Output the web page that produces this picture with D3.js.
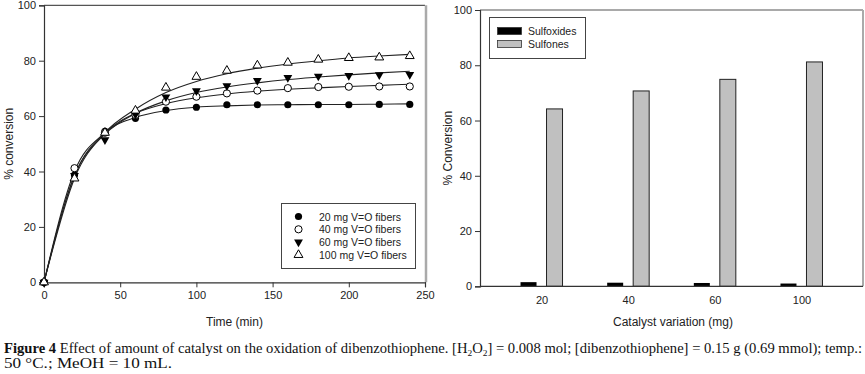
<!DOCTYPE html>
<html>
<head>
<meta charset="utf-8">
<script src="https://cdn.jsdelivr.net/npm/d3@7"></script>
<style>
  body { margin: 0; background: #fff; }
  svg { display: block; font-family: "Liberation Sans", Arial, sans-serif; }
  .caption { font-family: "Liberation Serif", "Times New Roman", serif; font-size: 14px; fill: #111; }
</style>
</head>
<body>
<svg id="chart" width="865" height="374"></svg>
<script>
// ---- left panel: conversion vs time ----
const times = [0, 20, 40, 60, 80, 100, 120, 140, 160, 180, 200, 220, 240];
const seriesNames = ['20 mg V=O fibers', '40 mg V=O fibers', '60 mg V=O fibers', '100 mg V=O fibers'];
const conv20 = [0, 38.7, 54.5, 59.2, 62.2, 63.2, 64.1, 64.1, 64.1, 64.1, 64.1, 64.2, 64.2];
const conv40 = [0, 41.2, 54, 60.4, 65.2, 67, 68.2, 69.2, 70.1, 70.5, 70.6, 70.7, 70.7];
const conv60 = [0, 38.5, 51.4, 60.6, 66.9, 69.1, 70.9, 72.8, 73.9, 74.4, 74.6, 74.9, 75];
const conv100 = [0, 37.5, 54, 62, 70.3, 74.2, 76.4, 78.3, 79.3, 80.4, 81, 81.2, 81.7];
// fitted curves
const fit20 = [0, 38.5, 54, 59.5, 62, 63.2, 63.7, 64, 64.1, 64.2, 64.2, 64.3, 64.4];
const fit40 = [0, 40, 54, 61, 64.5, 66.6, 68, 69, 69.7, 70.2, 70.7, 71.1, 71.5];
const fit60 = [0, 38.5, 53.5, 61, 65.5, 68.5, 70.5, 72, 73.2, 74.1, 74.9, 75.6, 76.2];
const fit100 = [0, 37.5, 54, 62.5, 68.5, 72.5, 75.3, 77.3, 78.8, 80, 81, 81.7, 82.3];
const timeTicks = [0, 50, 100, 150, 200, 250];
const convTicks = [0, 20, 40, 60, 80, 100];

// ---- right panel: product distribution vs catalyst ----
const catalyst = ['20', '40', '60', '100'];
const sulfoxides = [1.5, 1.3, 1.2, 1.0];
const sulfones = [64.2, 70.7, 74.9, 81.2];
const products = ['Sulfoxides', 'Sulfones'];

const captionLine1 = ' Effect of amount of catalyst on the oxidation of dibenzothiophene. [H';
const captionLine2 = '50 °C.; MeOH = 10 mL.';

const svg = d3.select('#chart');
const axisColor = '#333';

// ===== left chart =====
const L = { x0: 44, x1: 425, y0: 282.3, y1: 5.3 };
const xL = d3.scaleLinear().domain([0, 250]).range([L.x0, L.x1]);
const yL = d3.scaleLinear().domain([0, 100]).range([L.y0, L.y1]);

const gl = svg.append('g');
// frame: top dark, right light grey
gl.append('line').attr('x1', L.x0).attr('x2', L.x1).attr('y1', L.y1).attr('y2', L.y1)
  .attr('stroke', '#555').attr('stroke-width', 1.2);
gl.append('line').attr('x1', L.x1 + 1).attr('x2', L.x1 + 1).attr('y1', L.y1).attr('y2', L.y0)
  .attr('stroke', '#aaa').attr('stroke-width', 2.5);

const axL = gl.append('g').attr('transform', `translate(${L.x0},0)`)
  .call(d3.axisLeft(yL).tickValues(convTicks).tickSize(5).tickPadding(3));
const axB = gl.append('g').attr('transform', `translate(0,${L.y0})`)
  .call(d3.axisBottom(xL).tickValues(timeTicks).tickSize(5).tickPadding(4));
[axL, axB].forEach(a => {
  a.select('.domain').attr('stroke', axisColor).attr('stroke-width', 1.2);
  a.selectAll('.tick line').attr('stroke', axisColor);
  a.selectAll('.tick text').attr('font-size', 11).attr('fill', '#222')
    .attr('font-family', '"Liberation Sans", Arial, sans-serif');
});

gl.append('text').attr('transform', `translate(13,${(L.y0 + L.y1) / 2}) rotate(-90)`)
  .attr('text-anchor', 'middle').attr('font-size', 12).attr('fill', '#222')
  .text('% conversion');
gl.append('text').attr('x', (L.x0 + L.x1) / 2).attr('y', 326)
  .attr('text-anchor', 'middle').attr('font-size', 12).attr('fill', '#222')
  .text('Time (min)');

const fits = [fit20, fit40, fit60, fit100];
const convs = [conv20, conv40, conv60, conv100];
const line = d3.line().x((d, i) => xL(times[i])).y(d => yL(d)).curve(d3.curveMonotoneX);

fits.forEach(f => {
  gl.append('path').attr('d', line(f)).attr('fill', 'none')
    .attr('stroke', '#222').attr('stroke-width', 1.1);
});

const triUp = d3.symbol().type(d3.symbolTriangle).size(34);
function drawMarker(g, k, cx, cy) {
  if (k === 0) {
    g.append('circle').attr('cx', cx).attr('cy', cy).attr('r', 3.6).attr('fill', '#000');
  } else if (k === 1) {
    g.append('circle').attr('cx', cx).attr('cy', cy).attr('r', 3.6)
      .attr('fill', '#fff').attr('stroke', '#000').attr('stroke-width', 1);
  } else if (k === 2) {
    g.append('path').attr('d', triUp()).attr('transform', `translate(${cx},${cy}) rotate(180)`)
      .attr('fill', '#000');
  } else {
    g.append('path').attr('d', triUp()).attr('transform', `translate(${cx},${cy})`)
      .attr('fill', '#fff').attr('stroke', '#000').attr('stroke-width', 1);
  }
}
convs.forEach((s, k) => {
  s.forEach((v, i) => drawMarker(gl, k, xL(times[i]), yL(v)));
});

// legend
const lg = gl.append('g');
lg.append('rect').attr('x', 281.5).attr('y', 203.5).attr('width', 134).attr('height', 65)
  .attr('fill', '#fff').attr('stroke', '#444').attr('stroke-width', 1);
seriesNames.forEach((name, k) => {
  const cy = 216.5 + k * 12.8;
  drawMarker(lg, k, 298.5, cy);
  lg.append('text').attr('x', 319).attr('y', cy + 4).attr('font-size', 10.5).attr('fill', '#222')
    .text(name);
});

// ===== right chart =====
const R = { x0: 480, x1: 863, y0: 286.3, y1: 10 };
const xR = d3.scalePoint().domain(catalyst).range([R.x0, R.x1]).padding(0.71);
const yR = d3.scaleLinear().domain([0, 100]).range([R.y0, R.y1]);
const gr = svg.append('g');

gr.append('line').attr('x1', R.x0).attr('x2', R.x1).attr('y1', R.y1).attr('y2', R.y1)
  .attr('stroke', '#555').attr('stroke-width', 1.2);
gr.append('line').attr('x1', R.x1).attr('x2', R.x1).attr('y1', R.y1).attr('y2', R.y0)
  .attr('stroke', '#aaa').attr('stroke-width', 2);

const barW = 16, gap = 10;
catalyst.forEach((c, i) => {
  const cx = xR(c);
  gr.append('rect').attr('x', cx - gap / 2 - barW).attr('y', yR(sulfoxides[i]))
    .attr('width', barW).attr('height', yR(0) - yR(sulfoxides[i])).attr('fill', '#000');
  gr.append('rect').attr('x', cx + gap / 2).attr('y', yR(sulfones[i]))
    .attr('width', barW).attr('height', yR(0) - yR(sulfones[i]))
    .attr('fill', '#c0c0c0').attr('stroke', '#222').attr('stroke-width', 1);
});

const axRL = gr.append('g').attr('transform', `translate(${R.x0},0)`)
  .call(d3.axisLeft(yR).tickValues(convTicks).tickSize(5).tickPadding(3));
const axRB = gr.append('g').attr('transform', `translate(0,${R.y0})`)
  .call(d3.axisBottom(xR).tickSize(0).tickPadding(10));
[axRL, axRB].forEach(a => {
  a.select('.domain').attr('stroke', axisColor).attr('stroke-width', 1.2);
  a.selectAll('.tick line').attr('stroke', axisColor);
  a.selectAll('.tick text').attr('font-size', 11).attr('fill', '#222')
    .attr('font-family', '"Liberation Sans", Arial, sans-serif');
});
axRB.select('.domain').attr('d', `M${R.x0},0H${R.x1}`);

gr.append('text').attr('transform', `translate(452,${(R.y0 + R.y1) / 2}) rotate(-90)`)
  .attr('text-anchor', 'middle').attr('font-size', 12).attr('fill', '#222')
  .text('% Conversion');
gr.append('text').attr('x', 673).attr('y', 326)
  .attr('text-anchor', 'middle').attr('font-size', 12).attr('fill', '#222')
  .text('Catalyst variation (mg)');

const rg = gr.append('g');
rg.append('rect').attr('x', 489.5).attr('y', 17.5).attr('width', 96).attr('height', 41)
  .attr('fill', '#fff').attr('stroke', '#444').attr('stroke-width', 1);
products.forEach((p, k) => {
  const y = 27.5 + k * 13;
  rg.append('rect').attr('x', 497.5).attr('y', y).attr('width', 24).attr('height', 7)
    .attr('fill', k === 0 ? '#000' : '#c0c0c0').attr('stroke', '#333').attr('stroke-width', 0.8);
  rg.append('text').attr('x', 528).attr('y', y + 7.5).attr('font-size', 10.5).attr('fill', '#222')
    .text(p);
});

// ===== caption =====
const cap = svg.append('text').attr('class', 'caption').attr('x', 4).attr('y', 353)
  .attr('textLength', 858).attr('lengthAdjust', 'spacingAndGlyphs');
cap.append('tspan').attr('font-weight', 'bold').text('Figure 4');
cap.append('tspan').text(captionLine1);
cap.append('tspan').attr('font-size', 9).attr('dy', 3).text('2');
cap.append('tspan').attr('dy', -3).text('O');
cap.append('tspan').attr('font-size', 9).attr('dy', 3).text('2');
cap.append('tspan').attr('dy', -3).text('] = 0.008 mol; [dibenzothiophene] = 0.15 g (0.69 mmol); temp.:');
svg.append('text').attr('class', 'caption').attr('x', 4).attr('y', 368)
  .attr('textLength', 168).attr('lengthAdjust', 'spacingAndGlyphs').text(captionLine2);
</script>
</body>
</html>
